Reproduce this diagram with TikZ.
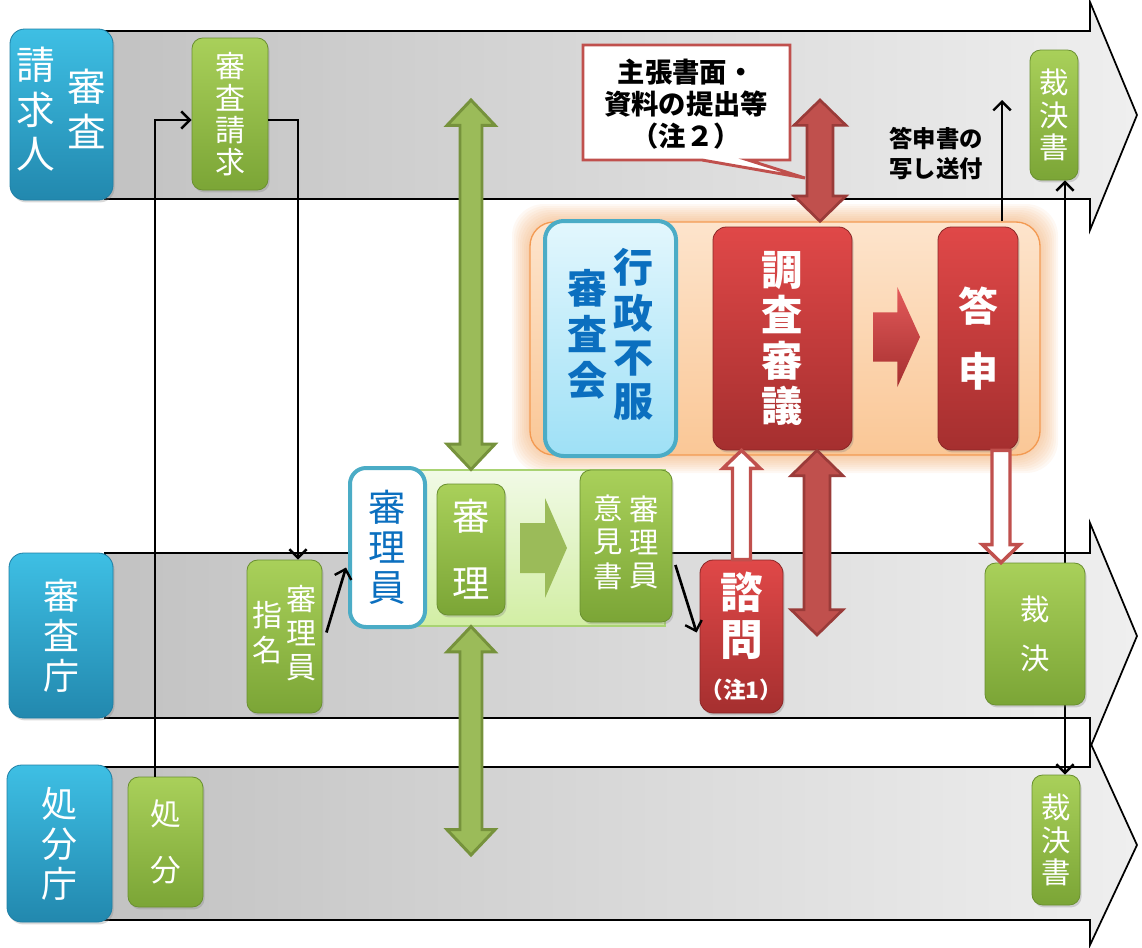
\documentclass[tikz,border=0pt]{standalone}
\usepackage{fontspec}
\setmainfont{Noto Sans CJK JP}
\usetikzlibrary{arrows.meta,shadows,calc}

\definecolor{laneL}{HTML}{C2C2C2}
\definecolor{laneR}{HTML}{EFEFEF}
\definecolor{blueT}{HTML}{3EBFE4}
\definecolor{blueB}{HTML}{2288AE}
\definecolor{blueD}{HTML}{1F7FA5}
\definecolor{grnT}{HTML}{A9D05A}
\definecolor{grnB}{HTML}{7BA536}
\definecolor{grnD}{HTML}{6A9030}
\definecolor{redT}{HTML}{E04848}
\definecolor{redB}{HTML}{A52F2F}
\definecolor{redD}{HTML}{8A2626}
\definecolor{arrR}{HTML}{C0504D}
\definecolor{arrRD}{HTML}{9A3B39}
\definecolor{arrG}{HTML}{9BBB59}
\definecolor{arrGD}{HTML}{76923C}
\definecolor{orgF}{HTML}{FAC796}
\definecolor{orgT}{HTML}{FDE4CC}
\definecolor{orgD}{HTML}{F39A52}
\definecolor{glowc}{HTML}{EE9A50}
\definecolor{ltbT}{HTML}{E3F7FD}
\definecolor{ltbB}{HTML}{9EE0F6}
\definecolor{ltbD}{HTML}{4BACC6}
\definecolor{jpblue}{HTML}{0B6FBF}
\definecolor{lgT}{HTML}{F1FAE6}
\definecolor{lgB}{HTML}{D2EEA4}
\definecolor{lgD}{HTML}{A9D373}

\newcommand\vt[1]{\begin{tabular}[c]{@{}c@{}}#1\end{tabular}}

% vertical double block arrow: style, top point, bottom point, shaft half, head half, head length
\newcommand\vdbl[6]{\path[#1] let \p1=(#2), \p2=(#3) in
  (\x1,\y1) -- (\x1+#5,\y1-#6) -- (\x1+#4,\y1-#6) -- (\x1+#4,\y2+#6) -- (\x1+#5,\y2+#6)
  -- (\x1,\y2) -- (\x1-#5,\y2+#6) -- (\x1-#4,\y2+#6) -- (\x1-#4,\y1-#6) -- (\x1-#5,\y1-#6) -- cycle;}
% vertical single block arrow: style, from, to, shaft half, head half, head length, dir (1 up, -1 down)
\newcommand\vsgl[7]{\path[#1] let \p1=(#2), \p2=(#3) in
  (\x1-#4,\y1) -- (\x1-#4,{\y2-(#7)*#6}) -- (\x1-#5,{\y2-(#7)*#6}) -- (\x1,\y2)
  -- (\x1+#5,{\y2-(#7)*#6}) -- (\x1+#4,{\y2-(#7)*#6}) -- (\x1+#4,\y1) -- cycle;}
% horizontal block arrow: style, from, to, shaft half, head half, head length
\newcommand\hblk[6]{\path[#1] let \p1=(#2), \p2=(#3) in
  (\x1,\y1+#4) -- (\x2-#6,\y1+#4) -- (\x2-#6,\y1+#5) -- (\x2,\y1) -- (\x2-#6,\y1-#5)
  -- (\x2-#6,\y1-#4) -- (\x1,\y1-#4) -- cycle;}

\tikzset{
  px/.style n args={4}{minimum width={(#3-#1)*0.75pt}, minimum height={(#4-#2)*0.75pt},
     at={({(#1+#3)/2},{(#2+#4)/2})}},
  box/.style={inner sep=0pt, align=center, text=white},
  shad/.style={drop shadow={opacity=0.3, shadow xshift=1.2pt, shadow yshift=-1.8pt}},
  bluelab/.style={box, shad, rounded corners=11pt, top color=blueT, bottom color=blueB, draw=blueD, line width=0.6pt},
  greenbox/.style={box, shad, rounded corners=8pt, top color=grnT, bottom color=grnB, draw=grnD, line width=0.6pt},
  redbox/.style={box, shad, rounded corners=10pt, top color=redT, bottom color=redB, draw=redD, line width=0.6pt},
  lane/.style={left color=laneL, right color=laneR, draw=black, line width=1.3pt},
  barb/.tip={Straight Barb[length=6.5pt,width=13pt,line width=1.8pt]},
  conn/.style={line width=2pt, -barb},
  gdbl/.style={fill=arrG, draw=arrGD, line width=2.2pt, line join=miter},
  rdbl/.style={fill=arrR, draw=arrRD, line width=2pt, line join=miter},
  hollow/.style={fill=white, draw=arrR, line width=2.6pt, line join=miter},
}

\begin{document}
\begin{tikzpicture}[x=0.75pt, y=-0.75pt]
\useasboundingbox (0,0) rectangle (1142,947);

% lanes
\path[lane] (105,31) -- (1090,31) -- (1090,2) -- (1137,115) -- (1090,230) -- (1090,199) -- (105,199) -- cycle;
\path[lane] (105,553) -- (1090,553) -- (1090,523) -- (1137,636) -- (1090,748) -- (1090,718) -- (105,718) -- cycle;
\path[lane] (105,767) -- (1090,767) -- (1090,742) -- (1137,845) -- (1090,945) -- (1090,920) -- (105,920) -- cycle;

% glow and group
\foreach \e in {2,4,...,18} {
  \fill[glowc, opacity=0.065, rounded corners=24pt] ({530-\e},{222-\e}) rectangle ({1040+\e},{455+\e});
}
\node[px={530}{222}{1040}{455}, rounded corners=18pt, top color=orgT, bottom color=orgF, draw=orgD, line width=1pt] (group) {};

% light green background
\node[px={380}{470}{665}{626}, top color=lgT, bottom color=lgB, draw=lgD, line width=0.8pt] (bg) {};

% coordinates
\coordinate (g1) at (471,100);
\coordinate (g2) at (471,855);
\coordinate (r1) at (820,100);
\coordinate (r2) at (817,635);
\coordinate (c1) at (155,120);
\coordinate (c2) at (298,120);
\coordinate (c3) at (1002,100);
\coordinate (c4) at (1065,0);
\coordinate (h2) at (1001,0);

% labels of lanes
\node[bluelab, px={10}{29}{113}{200}, font=\fontsize{29}{32}\selectfont] (lab1) {\vt{請\\求\\人}\hspace{9pt}\vt{審\\査}};
\node[bluelab, px={9}{553}{113}{718}, font=\fontsize{27}{30}\selectfont] (lab2) {審\\査\\庁};
\node[bluelab, px={7}{765}{112}{922}, font=\fontsize{27}{30}\selectfont] (lab3) {処\\分\\庁};

% green boxes
\node[greenbox, px={192}{38}{268}{190}, font=\fontsize{22.5}{24}\selectfont] (seikyu) {審\\査\\請\\求};
\node[greenbox, px={247}{560}{322}{713}, font=\fontsize{22.5}{25}\selectfont] (shimei) {\vt{指\\名}\hspace{3pt}\vt{審\\理\\員}};
\node[greenbox, px={128}{777}{203}{907}, font=\fontsize{23}{42}\selectfont] (shobun) {処\\分};

% result documents and line (behind 裁決)
\node[greenbox, px={1030}{50}{1078}{180}, font=\fontsize{22}{24.5}\selectfont] (ks1) {裁\\決\\書};
\node[greenbox, px={1032}{775}{1080}{905}, font=\fontsize{22}{24.5}\selectfont] (ks2) {裁\\決\\書};
\draw[line width=2pt, barb-barb] (c4 |- ks1.south) -- (c4 |- ks2.north);

% red top double arrow
\vdbl{rdbl}{r1}{r1 |- group.north}{9.75pt}{19.5pt}{19pt}

% connectors
\draw[conn] (c1 |- shobun.north) -- (c1) -- (c1 -| seikyu.west);
\draw[conn] (c2 -| seikyu.east) -- (c2) -- (c2 |- shimei.north);

% 審理員 etc
\node[px={350}{468}{425}{627}, rounded corners=12pt, fill=white, draw=ltbD, line width=3pt, text=jpblue, inner sep=0pt, align=center, font=\fontsize{28}{30}\selectfont] (shinriin) {審\\理\\員};
\node[greenbox, px={437}{484}{505}{615}, font=\fontsize{28}{50}\selectfont] (shinri) {審\\理};
\coordinate (ga1) at (520,548);
\coordinate (ga2) at (567,548);
\hblk{fill=arrG}{ga1}{ga2}{18.75pt}{37.5pt}{16.5pt}
\node[greenbox, px={580}{470}{672}{622}, font=\fontsize{22}{24.5}\selectfont] (iken) {\vt{意\\見\\書}\hspace{5pt}\vt{審\\理\\員}};

\draw[conn] ($(shimei.east)+(4,-4)$) -- ($(shinriin.west)+(-2,20)$);

% council
\node[px={545}{221}{676}{456}, rounded corners=14pt, top color=ltbT, bottom color=ltbB, draw=ltbD, line width=3pt, text=jpblue, inner sep=0pt, align=center, font=\bfseries\fontsize{30}{30}\selectfont] (kai) {\vt{審\\査\\会}\hspace{4pt}\vt{行\\政\\不\\服}};
\node[redbox, px={713}{227}{852}{450}, font=\bfseries\fontsize{31}{34}\selectfont] (chosa) {調\\査\\審\\議};
\coordinate (ra1) at (873,337);
\coordinate (ra2) at (920,337);
\hblk{top color=redT!90!white, bottom color=redB}{ra1}{ra2}{18.4pt}{37.5pt}{17pt}
\draw[conn] (c3 |- group.north) -- (c3);
\node[redbox, px={938}{227}{1018}{450}, font=\bfseries\fontsize{30}{49}\selectfont] (toshin) {答\\申};

% 諮問
\node[redbox, px={700}{560}{783}{713}, font=\bfseries\fontsize{32}{35}\selectfont] (shimon) {諮\\問\\[-3pt]{\fontsize{17}{19}\selectfont （注1）}};
\draw[conn] ($(iken.east)+(3,19)$) -- ($(shimon.west)+(-3,-4)$);

% 裁決
\node[greenbox, px={985}{563}{1085}{705}, font=\fontsize{22}{37}\selectfont] (saiketsu) {裁\\決};

% block arrows
\vdbl{gdbl}{g1}{g1 |- bg.north}{8.25pt}{18pt}{19pt}
\vdbl{gdbl}{g1 |- bg.south}{g2}{8.25pt}{18pt}{19pt}
\vdbl{rdbl}{r2 |- chosa.south}{r2}{9.75pt}{19.5pt}{19pt}
\vsgl{hollow}{shimon.north}{shimon.north |- chosa.south}{6.75pt}{14pt}{13.5pt}{1}
\vsgl{hollow}{h2 |- toshin.south}{h2 |- saiketsu.north}{6.75pt}{14pt}{13.5pt}{-1}

% callout
\path[fill=white, draw=arrR, line width=2.2pt, line join=miter] (583,45) -- (790,45) -- (790,160) -- (748,160) -- (805,178) -- (702,160) -- (583,160) -- cycle;
\node[font=\bfseries\fontsize{20.5}{24}\selectfont, align=center, inner sep=0pt] (callout) at (686,104) {主張書面・\\資料の提出等\\（注２）};

% label of copy
\node[font=\bfseries\fontsize{17.5}{22.5}\selectfont, align=center, inner sep=0pt] (copy) at (936,154) {答申書の\\写し送付};
\end{tikzpicture}
\end{document}
